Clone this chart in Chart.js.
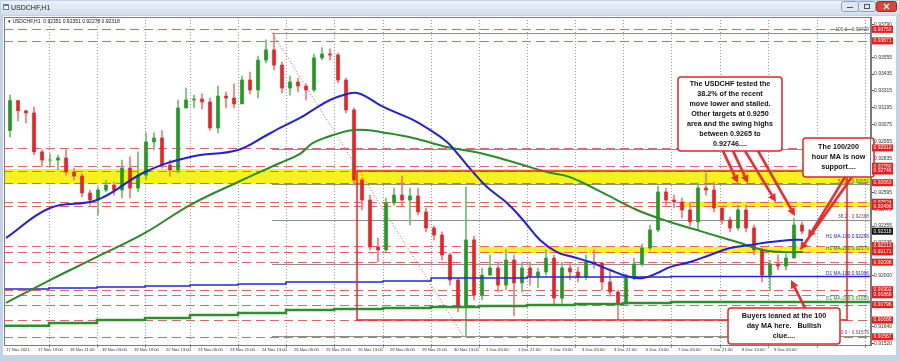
<!DOCTYPE html>
<html>
<head>
<meta charset="utf-8">
<title>USDCHF,H1</title>
<script src="https://cdn.jsdelivr.net/npm/chart.js@4.4.0/dist/chart.umd.min.js"></script>
<style>
  html, body { margin: 0; padding: 0; background: #c3d2e6; }
  canvas { display: block; }
</style>
</head>
<body>
<canvas id="chart" width="900" height="361" style="width:900px;height:361px"></canvas>
<script>
// ---- data (4-hour candles built from the H1 chart, x in trading hours from 17 Nov 03:00) ----
const firstOpen = 0.93034;
const closes = [0.93247,0.93174,0.93159,0.92882,0.92824,0.92824,0.92839,0.92739,0.92710,0.92590,
  0.92540,0.92611,0.92646,0.92611,0.92767,0.92625,0.92717,0.92953,0.92981,0.92788,
  0.92753,0.93194,0.93251,0.93258,0.93237,0.93052,0.93279,0.93265,0.93223,0.93393,
  0.93322,0.93535,0.93607,0.93499,0.93336,0.93379,0.93350,0.93322,0.93550,0.93578,
  0.93571,0.93393,0.93180,0.92682,0.92540,0.92206,0.92185,0.92519,0.92575,0.92540,
  0.92568,0.92455,0.92341,0.92291,0.92149,0.91971,0.91786,0.92256,0.91864,0.92006,
  0.92056,0.91935,0.92113,0.91950,0.92056,0.91999,0.92028,0.92127,0.91843,0.92056,
  0.92028,0.91992,0.92099,0.92092,0.91957,0.91886,0.91807,0.91985,0.92085,0.92199,
  0.92327,0.92597,0.92540,0.92526,0.92469,0.92384,0.92625,0.92611,0.92483,0.92398,
  0.92341,0.92469,0.92341,0.92185,0.92006,0.92085,0.92070,0.92127,0.92362,0.92318];
const highs = [0.93286,0.93223,0.93180,0.93201,0.92896,0.92868,0.92860,0.92896,0.92767,0.92725,
  0.92611,0.92632,0.92682,0.92668,0.92824,0.92846,0.92882,0.93017,0.93017,0.93034,
  0.92824,0.93251,0.93336,0.93286,0.93294,0.93265,0.93350,0.93308,0.93365,0.93421,
  0.93450,0.93564,0.93678,0.93729,0.93521,0.93421,0.93407,0.93365,0.93578,0.93621,
  0.93614,0.93585,0.93407,0.93194,0.92696,0.92575,0.92270,0.92554,0.92625,0.92710,
  0.92625,0.92625,0.92483,0.92355,0.92313,0.92163,0.91985,0.92632,0.92284,0.92056,
  0.92149,0.92099,0.92185,0.92149,0.92099,0.92099,0.92056,0.92185,0.92149,0.92099,
  0.92099,0.92063,0.92149,0.92185,0.92099,0.92042,0.91900,0.92014,0.92127,0.92227,
  0.92362,0.92639,0.92625,0.92575,0.92554,0.92519,0.92660,0.92732,0.92668,0.92483,
  0.92419,0.92504,0.92504,0.92362,0.92199,0.92113,0.92149,0.92156,0.92412,0.92384];
const lows = [0.92988,0.93102,0.93088,0.92860,0.92781,0.92781,0.92753,0.92717,0.92682,0.92561,
  0.92504,0.92433,0.92597,0.92575,0.92554,0.92554,0.92597,0.92682,0.92896,0.92767,
  0.92710,0.92732,0.93215,0.93194,0.93187,0.93034,0.93017,0.93194,0.93194,0.93247,
  0.93294,0.93265,0.93514,0.93464,0.93301,0.93286,0.93308,0.93251,0.93308,0.93535,
  0.93535,0.93372,0.93159,0.92646,0.92469,0.92185,0.92099,0.92170,0.92504,0.92497,
  0.92362,0.92433,0.92313,0.92256,0.92113,0.91935,0.91744,0.91575,0.91829,0.91829,
  0.92006,0.91886,0.91900,0.91715,0.91886,0.91935,0.91914,0.92006,0.91793,0.91807,
  0.91971,0.91957,0.91971,0.92056,0.91900,0.91857,0.91687,0.91793,0.91971,0.92070,
  0.92185,0.92313,0.92504,0.92483,0.92412,0.92355,0.92327,0.92575,0.92455,0.92370,
  0.92313,0.92327,0.92313,0.92149,0.91957,0.91893,0.92042,0.92042,0.92149,0.92298];

// hourly moving averages (read at selected hours)
const ma100Hours = [0,22,45.5,69.5,92,116,130.5,137,147,153.5,162,170.5,175.5,180.5,187,195.5,203.5,212,220.5,225.5,
  233.5,240.5,250.5,258.5,267,275.5,283.5,292,302,312,318.5,325.5,332,342,352,362,372,382,392,398.5];
const ma100Values = [0.92270,0.92483,0.92540,0.92739,0.92846,0.92896,0.93002,0.93052,0.93123,0.93180,
  0.93251,0.93294,0.93301,0.93272,0.93215,0.93159,0.93109,0.93038,0.92953,0.92874,
  0.92739,0.92632,0.92519,0.92398,0.92256,0.92170,0.92135,0.92099,0.92042,0.91992,
  0.91985,0.92020,0.92063,0.92099,0.92149,0.92199,0.92220,0.92241,0.92256,0.92256];
const ma200Hours = [0,22,45.5,69.5,92,116,137,147,153.5,167,173.5,180.5,187,203.5,220.5,237,253.5,270.5,282,298.5,
  315.5,332,348.5,365.5,378.5,388.5,398.5];
const ma200Values = [0.91808,0.91971,0.92135,0.92306,0.92504,0.92668,0.92803,0.92868,0.92946,0.93017,
  0.93038,0.93038,0.93024,0.92981,0.92917,0.92874,0.92810,0.92739,0.92703,0.92590,
  0.92469,0.92384,0.92313,0.92241,0.92185,0.92170,0.92170];

// daily moving averages (step lines)
const d1Hours = [-1,21.5,45.5,69.5,92,116,140,164,188.5,212.5,236.5,260.5,284.5,308.5,332.5,357,381,432.5];
const d1Ma100 = [0.91900,0.91907,0.91914,0.91921,0.91928,0.91935,0.91942,0.91957,0.91957,0.91964,
  0.91985,0.91985,0.91992,0.91992,0.91992,0.91996,0.91996,0.91996];
const d1Ma200 = [0.91623,0.91645,0.91666,0.91687,0.91701,0.91722,0.91736,0.91758,0.91765,0.91772,
  0.91779,0.91786,0.91793,0.91800,0.91807,0.91815,0.91815,0.91815];

// axes
const xLabels = ['17 Nov 2021','17 Nov 19:00','18 Nov 11:00','19 Nov 03:00','19 Nov 19:00','22 Nov 13:00',
  '23 Nov 05:00','23 Nov 21:00','24 Nov 13:00','25 Nov 05:00','25 Nov 21:00','26 Nov 13:00','29 Nov 05:00',
  '29 Nov 21:00','30 Nov 13:00','1 Dec 05:00','1 Dec 21:00','2 Dec 13:00','3 Dec 05:00','3 Dec 21:00',
  '6 Dec 13:00','7 Dec 05:00','7 Dec 21:00','8 Dec 13:00','9 Dec 05:00'];
const xLabelHours = [0,16,32,48,64,80,96,112,128,144,160,176,192,208,224,240,256,272,288,304,320,336,352,368,384];
const gridHours = [21.5,45.5,69.5,92,116,140,164,188.5,212.5,236.5,260.5,284.5,308.5,332.5,357,381,405.5,429.5];
const yTicks = [0.93790,0.93555,0.93435,0.93315,0.93195,0.93075,0.92955,0.92835,0.92595,0.92475,
  0.92355,0.92235,0.92000,0.91640,0.91520];

// drawn objects
const redLevels = [0.93753,0.93671,0.92910,0.92780,0.92746,0.92663,0.92524,0.92496,0.92213,0.92171,
  0.92098,0.91902,0.91866,0.91796,0.91686,0.91567];
const fibLevels = [0.93729,0.92906,0.92652,0.92398,0.92083,0.91575];
const fibStart = [133, 0.93729];
const fibEnd = [228.5, 0.91575];
const bands = [[0.92655,0.92760,-1],[0.92490,0.92528,338.5],[0.92163,0.92206,236.5]];
const rangeBox = [175.5, 0.92746, 420.5, 0.91687];
const lineTexts = [
  ['100.0 - 0.93729', 0.93729, '#555'],
  ['50.0 - 0.92652', 0.92652, '#555'],
  ['38.2 - 0.92398', 0.92398, '#555'],
  ['0.0 - 0.91575', 0.91575, '#555'],
  ['H1 MA-100:0.92256', 0.92256, '#2323d0'],
  ['H1 MA-200:0.92170', 0.92170, '#2a7a2a'],
  ['D1 MA-100:0.91996', 0.91996, '#2323d0'],
  ['D1 MA-200:0.91850', 0.91815, '#2a8a2a']
];
const notes = [
  { box: [336, 0.93414, 388, 0.92889], lines: ['The USDCHF tested the','38.2% of the recent','move lower and stalled.','Other targets at 0.9250','area and the swing highs','between 0.9265 to','0.92746....'] },
  { box: [398.5, 0.92981, 434, 0.92703], lines: ['The 100/200','hour MA is now','support....'] },
  { box: [361, 0.91772, 417, 0.91516], lines: ['Buyers leaned at the 100','day MA here.   Bullish','clue....'] }
];
const arrows = [
  [358.5,0.92889,366,0.92660],[363.5,0.92889,371,0.92660],[369.5,0.92889,385,0.92526],[376,0.92889,394.5,0.92426],
  [419.5,0.92703,401,0.92270],[423,0.92703,397,0.92185],[399.5,0.91772,392.5,0.91971]
];

const FONT = '"Liberation Sans", Arial, sans-serif';
const candleHour = i => 4 * i + 2;
const opens = closes.map((c, i) => i === 0 ? firstOpen : closes[i - 1]);
const isUp = closes.map((c, i) => c >= opens[i]);

function drawArrow(ctx, x1, y1, x2, y2) {
  const a = Math.atan2(y2 - y1, x2 - x1);
  const bx = x2 - 8 * Math.cos(a), by = y2 - 8 * Math.sin(a);
  ctx.beginPath(); ctx.moveTo(x1, y1); ctx.lineTo(bx, by); ctx.stroke();
  ctx.beginPath(); ctx.moveTo(x2, y2);
  ctx.lineTo(bx + 4 * Math.sin(a), by - 4 * Math.cos(a));
  ctx.lineTo(bx - 4 * Math.sin(a), by + 4 * Math.cos(a));
  ctx.closePath(); ctx.fill();
}

const overlay = {
  id: 'overlay',
  beforeDraw(chart) {
    const ctx = chart.ctx;
    ctx.save();
    ctx.fillStyle = '#c3d2e6'; ctx.fillRect(0, 0, 900, 361);
    const g = ctx.createLinearGradient(0, 0, 0, 15);
    g.addColorStop(0, '#eef3f9'); g.addColorStop(1, '#d3deeb');
    ctx.fillStyle = g; ctx.fillRect(1, 1, 898, 14);
    ctx.fillStyle = '#fff'; ctx.fillRect(3, 16, 893, 339);
    // title
    ctx.fillStyle = '#5a7db0'; ctx.fillRect(3, 4, 6, 6);
    ctx.fillStyle = '#fff'; ctx.fillRect(4, 6, 4, 3);
    ctx.fillStyle = '#1a1a1a'; ctx.font = '7px ' + FONT; ctx.textBaseline = 'middle';
    ctx.fillText('USDCHF,H1', 11, 8);
    // window buttons
    ctx.fillStyle = '#dfe7f1'; ctx.strokeStyle = '#8ea2bd'; ctx.lineWidth = 1;
    ctx.beginPath(); ctx.roundRect(841.5, 1.5, 17, 10, 2); ctx.fill(); ctx.stroke();
    ctx.beginPath(); ctx.roundRect(858.5, 1.5, 17, 10, 2); ctx.fill(); ctx.stroke();
    ctx.fillStyle = '#d9453a'; ctx.strokeStyle = '#9b2a24';
    ctx.beginPath(); ctx.roundRect(876.5, 1.5, 20, 10, 2); ctx.fill(); ctx.stroke();
    ctx.strokeStyle = '#fff'; ctx.lineWidth = 1.2;
    ctx.beginPath(); ctx.moveTo(884, 4); ctx.lineTo(889, 9); ctx.moveTo(889, 4); ctx.lineTo(884, 9); ctx.stroke();
    ctx.strokeStyle = '#555'; ctx.lineWidth = 1;
    ctx.beginPath(); ctx.moveTo(847, 7.5); ctx.lineTo(853, 7.5); ctx.stroke();
    ctx.strokeRect(864.5, 4.5, 5, 4);
    ctx.restore();
  },
  beforeDatasetsDraw(chart) {
    const ctx = chart.ctx, a = chart.chartArea;
    const px = v => chart.scales.x.getPixelForValue(v);
    const py = v => chart.scales.y.getPixelForValue(v);
    ctx.save();
    ctx.beginPath(); ctx.rect(a.left, a.top, a.right - a.left, a.bottom - a.top); ctx.clip();
    // yellow zones
    ctx.fillStyle = '#f7f21c';
    bands.forEach(b => {
      const y1 = py(b[1]), y2 = py(b[0]);
      ctx.fillRect(px(b[2]), y1, a.right - px(b[2]), y2 - y1);
    });
    // fibonacci levels
    ctx.strokeStyle = '#8f8f8f'; ctx.lineWidth = 1;
    fibLevels.forEach(v => {
      const y = Math.round(py(v)) + 0.5;
      ctx.beginPath(); ctx.moveTo(px(fibStart[0]), y); ctx.lineTo(a.right, y); ctx.stroke();
    });
    ctx.setLineDash([1, 2]); ctx.strokeStyle = '#c0605a';
    ctx.beginPath(); ctx.moveTo(px(fibStart[0]), py(fibStart[1])); ctx.lineTo(px(fibEnd[0]), py(fibEnd[1])); ctx.stroke();
    // horizontal levels
    ctx.setLineDash([9, 5]); ctx.strokeStyle = '#e06666';
    redLevels.forEach(v => {
      const y = Math.round(py(v)) + 0.5;
      ctx.beginPath(); ctx.moveTo(a.left, y); ctx.lineTo(a.right, y); ctx.stroke();
    });
    ctx.restore();
  },
  afterDatasetsDraw(chart) {
    const ctx = chart.ctx, a = chart.chartArea;
    const px = v => chart.scales.x.getPixelForValue(v);
    const py = v => chart.scales.y.getPixelForValue(v);
    ctx.save();
    // range rectangle
    ctx.strokeStyle = '#e8262b'; ctx.lineWidth = 1.5;
    ctx.strokeRect(px(rangeBox[0]), py(rangeBox[1]), px(rangeBox[2]) - px(rangeBox[0]), py(rangeBox[3]) - py(rangeBox[1]));
    // labels on lines
    ctx.font = '4.8px ' + FONT; ctx.textAlign = 'right'; ctx.textBaseline = 'bottom';
    lineTexts.forEach(t => { ctx.fillStyle = t[2]; ctx.fillText(t[0], a.right - 2, py(t[1]) - 0.5); });
    // arrows
    ctx.strokeStyle = '#ee2a2a'; ctx.fillStyle = '#ee2a2a'; ctx.lineWidth = 2.6;
    arrows.forEach(r => drawArrow(ctx, px(r[0]), py(r[1]), px(r[2]), py(r[3])));
    // note boxes
    notes.forEach(n => {
      const x1 = px(n.box[0]), y1 = py(n.box[1]), x2 = px(n.box[2]), y2 = py(n.box[3]);
      ctx.beginPath(); ctx.roundRect(x1, y1, x2 - x1, y2 - y1, 3);
      ctx.fillStyle = '#fff'; ctx.fill();
      ctx.strokeStyle = '#e0262b'; ctx.lineWidth = 1.5; ctx.stroke();
      ctx.fillStyle = '#111'; ctx.font = 'bold 7.2px ' + FONT; ctx.textAlign = 'center'; ctx.textBaseline = 'middle';
      const lh = 10, cy = (y1 + y2) / 2, top = cy - (n.lines.length - 1) * lh / 2;
      n.lines.forEach((t, i) => ctx.fillText(t, (x1 + x2) / 2, top + i * lh));
    });
    ctx.restore();
  },
  afterDraw(chart) {
    const ctx = chart.ctx, a = chart.chartArea;
    const py = v => chart.scales.y.getPixelForValue(v);
    ctx.save();
    ctx.strokeStyle = '#7a7a7a'; ctx.lineWidth = 1;
    ctx.strokeRect(a.left + 0.5, a.top + 0.5, a.right - a.left - 1, a.bottom - a.top);
    ctx.font = '5px ' + FONT; ctx.textBaseline = 'middle'; ctx.textAlign = 'left';
    redLevels.forEach(v => {
      const y = py(v);
      ctx.fillStyle = '#ec1c1c'; ctx.fillRect(a.right + 1, y - 3.5, 21, 7);
      ctx.fillStyle = '#fff'; ctx.fillText(v.toFixed(5), a.right + 2.5, y);
    });
    const last = closes[closes.length - 1];
    ctx.fillStyle = '#111'; ctx.fillRect(a.right + 1, py(last) - 3.5, 21, 7);
    ctx.fillStyle = '#fff'; ctx.fillText(last.toFixed(5), a.right + 2.5, py(last));
    // symbol line
    ctx.fillStyle = '#111'; ctx.font = '5px ' + FONT;
    ctx.fillText('\u25BE USDCHF,H1  0.92351 0.92351 0.92278 0.92318', a.left + 4, a.top + 5);
    ctx.restore();
  }
};

new Chart(document.getElementById('chart'), {
  type: 'bar',
  data: {
    datasets: [
      { type: 'line', label: 'H1 MA-100', data: ma100Hours.map((h, i) => ({ x: h, y: ma100Values[i] })),
        borderColor: '#2222d4', borderWidth: 2, pointRadius: 0, tension: 0.4, order: 0 },
      { type: 'line', label: 'H1 MA-200', data: ma200Hours.map((h, i) => ({ x: h, y: ma200Values[i] })),
        borderColor: '#2b8a2b', borderWidth: 2, pointRadius: 0, tension: 0.4, order: 0 },
      { type: 'line', label: 'D1 MA-100', data: d1Hours.map((h, i) => ({ x: h, y: d1Ma100[i] })),
        borderColor: '#2626d6', borderWidth: 1.5, pointRadius: 0, stepped: 'after', order: 1 },
      { type: 'line', label: 'D1 MA-200', data: d1Hours.map((h, i) => ({ x: h, y: d1Ma200[i] })),
        borderColor: '#2f8f2f', borderWidth: 2.5, pointRadius: 0, stepped: 'after', order: 1 },
      { label: 'body', data: closes.map((c, i) => ({ x: candleHour(i), y: [opens[i], c] })),
        backgroundColor: isUp.map(u => u ? '#1f9b1f' : '#ec2222'), barThickness: 3, grouped: false, order: 2 },
      { label: 'wick', data: closes.map((c, i) => ({ x: candleHour(i), y: [lows[i], highs[i]] })),
        backgroundColor: isUp.map(u => u ? '#6cbf6c' : '#f07a7a'), barThickness: 1, grouped: false, order: 3 }
    ]
  },
  options: {
    responsive: false,
    animation: false,
    devicePixelRatio: 1,
    layout: { padding: { left: 4, top: 17, right: 2, bottom: 4 } },
    plugins: { legend: { display: false }, tooltip: { enabled: false } },
    scales: {
      xg: {
        type: 'linear', position: 'bottom', min: -1, max: 432.5, offset: false, weight: 0,
        afterBuildTicks: s => { s.ticks = gridHours.map(v => ({ value: v })); },
        afterFit: s => { s.height = 0; },
        ticks: { display: false },
        grid: { color: '#9a9a9a', lineWidth: 1, tickLength: 3, offset: false },
        border: { display: false, dash: [1, 2] }
      },
      x: {
        type: 'linear', position: 'bottom', min: -1, max: 432.5, offset: false, weight: 1,
        afterBuildTicks: s => { s.ticks = xLabelHours.map(v => ({ value: v })); },
        afterFit: s => { s.height = 12; },
        ticks: { autoSkip: false, maxRotation: 0, minRotation: 0, align: 'start', padding: 2.5,
          color: '#333', font: { size: 4.2, family: FONT }, callback: (v, i) => xLabels[i] },
        grid: { display: false, drawTicks: false, offset: false },
        border: { display: false }
      },
      y: {
        type: 'linear', position: 'right', min: 0.91509, max: 0.93841,
        afterBuildTicks: s => { s.ticks = yTicks.map(v => ({ value: v })); },
        afterFit: s => { s.width = 27; },
        ticks: { padding: 0, color: '#333', font: { size: 5, family: FONT }, callback: v => v.toFixed(5) },
        grid: { drawOnChartArea: false, tickLength: 3, color: '#555' },
        border: { display: true, color: '#7a7a7a' }
      }
    }
  },
  plugins: [overlay]
});
</script>
</body>
</html>
